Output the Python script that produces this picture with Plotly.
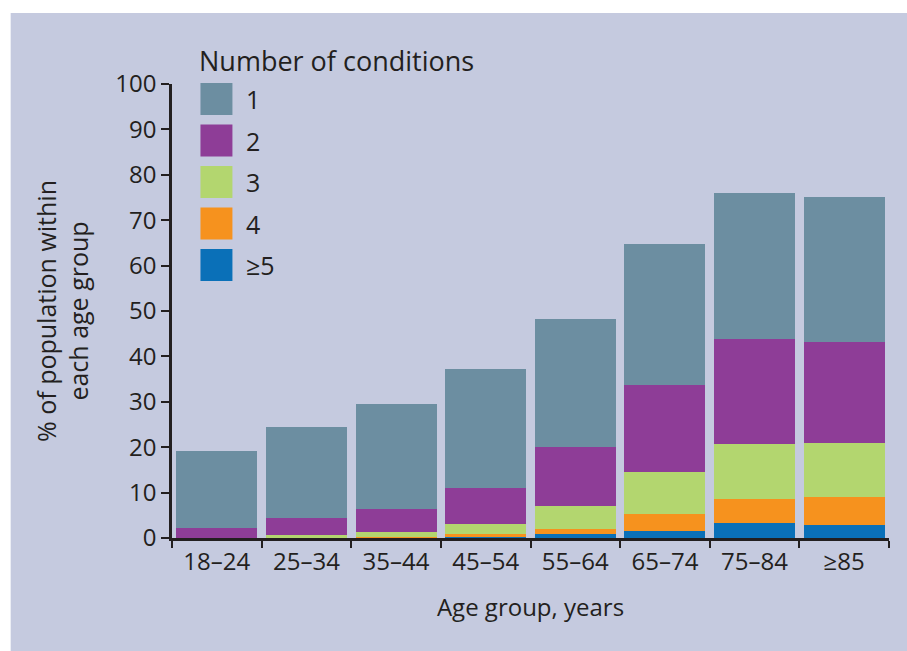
import plotly.graph_objects as go

# ---- data ----
age_groups = ["18–24", "25–34", "35–44", "45–54", "55–64", "65–74", "75–84", "≥85"]
series_names = ["≥5", "4", "3", "2", "1"]  # bottom to top
cond_5plus = [0.0, 0.0, 0.05, 0.2, 0.8, 1.5, 3.2, 2.8]
cond_4 = [0.0, 0.1, 0.2, 0.6, 1.2, 3.8, 5.5, 6.2]
cond_3 = [0.1, 0.5, 1.05, 2.2, 5.0, 9.3, 12.1, 12.0]
cond_2 = [2.0, 3.9, 5.1, 8.1, 13.1, 19.1, 23.0, 22.1]
cond_1 = [17.1, 20.0, 23.1, 26.1, 28.1, 31.1, 32.1, 32.0]
series_values = [cond_5plus, cond_4, cond_3, cond_2, cond_1]
series_colors = ["#0A70B8", "#F6921E", "#B3D66F", "#8E3D97", "#6C8EA1"]

legend_order = ["1", "2", "3", "4", "≥5"]
legend_colors = ["#6C8EA1", "#8E3D97", "#B3D66F", "#F6921E", "#0A70B8"]

y_ticks = [0, 10, 20, 30, 40, 50, 60, 70, 80, 90, 100]

# ---- layout geometry (pixels) ----
W, H = 907, 651
L, R, T, B = 171.5, 907 - 889.3, 84, 651 - 538
pw = W - L - R
ph = H - T - B

def px_x(p):
    return (p - L) / pw

def px_y(p):
    return (H - B - p) / ph

FONT = "Open Sans"
TXT = "#231F20"

fig = go.Figure()
for name, vals, col in zip(series_names, series_values, series_colors):
    fig.add_trace(go.Bar(
        x=age_groups, y=vals, name=name,
        marker=dict(color=col, line=dict(width=0)),
        showlegend=False,
    ))

shapes = [
    dict(type="rect", xref="paper", yref="paper",
         x0=px_x(10), x1=px_x(W + 5), y0=px_y(13), y1=px_y(H + 5),
         fillcolor="#C5CADF", line=dict(width=0), layer="below"),
]
annotations = [
    dict(text="Number of conditions", xref="paper", yref="paper",
         x=px_x(197), y=px_y(60), xanchor="left", yanchor="middle",
         showarrow=False, font=dict(family=FONT, size=27, color=TXT)),
]
sw_top = 83.0
step = 41.5
for i, (lab, col) in enumerate(zip(legend_order, legend_colors)):
    top = sw_top + i * step
    shapes.append(dict(type="rect", xref="paper", yref="paper",
                       x0=px_x(200), x1=px_x(232), y0=px_y(top + 32), y1=px_y(top),
                       fillcolor=col, line=dict(width=0)))
    annotations.append(dict(text=lab, xref="paper", yref="paper",
                            x=px_x(244), y=px_y(top + 16), xanchor="left", yanchor="middle",
                            showarrow=False, font=dict(family=FONT, size=25, color=TXT)))

fig.update_layout(
    width=W, height=H,
    margin=dict(l=L, r=R, t=T, b=B, pad=0),
    paper_bgcolor="white",
    plot_bgcolor="rgba(0,0,0,0)",
    barmode="stack",
    bargap=0.095,
    font=dict(family=FONT, size=24, color=TXT),
    shapes=shapes,
    annotations=annotations,
    xaxis=dict(
        title=dict(text="Age group, years", font=dict(family=FONT, size=24, color=TXT), standoff=24),
        showline=True, linecolor=TXT, linewidth=2.5,
        ticks="outside", tickson="boundaries", ticklen=7, tickwidth=2, tickcolor=TXT,
        tickfont=dict(family=FONT, size=24, color=TXT),
        showgrid=False, zeroline=False,
    ),
    yaxis=dict(
        title=dict(text="% of population within<br>each age group",
                   font=dict(family=FONT, size=25, color=TXT), standoff=20),
        range=[0, 100], tickvals=y_ticks,
        showline=True, linecolor=TXT, linewidth=2.5,
        ticks="outside", ticklen=8, tickwidth=2, tickcolor=TXT,
        tickfont=dict(family=FONT, size=24, color=TXT),
        showgrid=False, zeroline=False,
    ),
)

fig.write_html(
    "out.html",
    config={"displayModeBar": False},
    post_script="document.body.style.margin='0';document.body.style.overflow='hidden';",
)
